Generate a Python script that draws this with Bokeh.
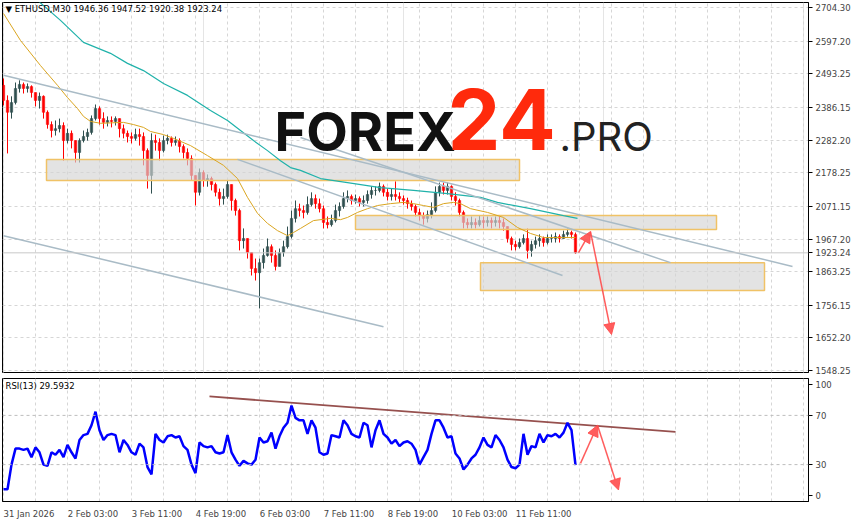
from bokeh.plotting import figure
from bokeh.layouts import column
from bokeh.models import (FixedTicker, NumeralTickFormatter, Range1d, Label, Span,
                          Arrow, NormalHead, Grid, ColumnDataSource)
from bokeh.embed import file_html
from bokeh.resources import INLINE

# ---------------- data ----------------
symbol = "ETHUSD"
timeframe = "M30"
last_ohlc = [1946.36, 1947.52, 1920.38, 1923.24]
rsi_period = 13
rsi_last = 29.5932

bars_per_candle = 4          # each drawn candle = 4 x M30 bars
first_open = 2457

closes = [2409, 2371, 2402, 2447, 2460, 2447, 2453, 2434, 2409, 2422,
          2371, 2332, 2313, 2319, 2329, 2281, 2304, 2281, 2243, 2281,
          2294, 2307, 2351, 2383, 2351, 2339, 2345, 2342, 2351, 2319,
          2304, 2294, 2288, 2300, 2294, 2249, 2170, 2281, 2275, 2249,
          2281, 2288, 2275, 2281, 2262, 2243, 2224, 2170, 2116, 2179,
          2154, 2160, 2141, 2116, 2096, 2103, 2141, 2090, 2058, 1962,
          1969, 1924, 1873, 1860, 1892, 1915, 1943, 1915, 1880, 1924,
          1943, 1975, 2033, 2064, 2058, 2052, 2077, 2096, 2080, 2064,
          2020, 2013, 2026, 2058, 2071, 2096, 2103, 2090, 2096, 2084,
          2090, 2109, 2122, 2122, 2135, 2116, 2103, 2109, 2103, 2096,
          2090, 2080, 2071, 2052, 2042, 2033, 2045, 2058, 2116, 2135,
          2122, 2135, 2103, 2090, 2052, 2020, 2013, 2020, 2013, 2026,
          2020, 2026, 2020, 2026, 2020, 2007, 1969, 1950, 1943, 1956,
          1969, 1931, 1950, 1962, 1969, 1956, 1969, 1969, 1975, 1969,
          1982, 1988, 1982, 1923.24]

highs = [2479, 2425, 2422, 2466, 2473, 2466, 2463, 2457, 2434, 2434,
         2425, 2377, 2342, 2345, 2351, 2339, 2319, 2313, 2281, 2288,
         2313, 2319, 2361, 2396, 2390, 2371, 2358, 2358, 2358, 2351,
         2332, 2313, 2307, 2319, 2319, 2307, 2256, 2304, 2300, 2288,
         2297, 2300, 2294, 2294, 2288, 2269, 2256, 2234, 2170, 2192,
         2186, 2173, 2166, 2147, 2128, 2128, 2154, 2141, 2096, 2064,
         2001, 1969, 1924, 1905, 1905, 1937, 1969, 1950, 1931, 1937,
         1962, 2007, 2058, 2090, 2080, 2074, 2103, 2116, 2109, 2096,
         2074, 2039, 2045, 2077, 2084, 2116, 2122, 2109, 2109, 2103,
         2106, 2122, 2135, 2135, 2147, 2141, 2128, 2128, 2151, 2116,
         2106, 2099, 2090, 2077, 2064, 2052, 2058, 2084, 2135, 2147,
         2147, 2147, 2138, 2116, 2096, 2058, 2033, 2039, 2033, 2042,
         2039, 2039, 2036, 2039, 2039, 2033, 2007, 1975, 1962, 1969,
         1982, 2001, 1962, 1975, 1982, 1975, 1982, 1982, 1988, 1982,
         1994, 2001, 1994, 1988]

lows = [2393, 2240, 2351, 2396, 2434, 2431, 2434, 2418, 2390, 2383,
        2351, 2319, 2291, 2297, 2307, 2217, 2272, 2256, 2211, 2211,
        2275, 2281, 2300, 2345, 2332, 2319, 2326, 2323, 2329, 2291,
        2288, 2275, 2272, 2281, 2265, 2202, 2128, 2112, 2249, 2217,
        2243, 2269, 2262, 2265, 2243, 2224, 2202, 2154, 2074, 2106,
        2134, 2134, 2122, 2103, 2074, 2077, 2096, 2058, 2042, 1931,
        1937, 1905, 1851, 1835, 1746, 1873, 1911, 1892, 1867, 1880,
        1911, 1937, 1969, 2020, 2039, 2033, 2045, 2071, 2064, 2052,
        2001, 2001, 2007, 2020, 2039, 2064, 2084, 2077, 2080, 2071,
        2071, 2080, 2096, 2106, 2116, 2103, 2090, 2090, 2090, 2084,
        2077, 2064, 2058, 2039, 2026, 2013, 2020, 2033, 2052, 2103,
        2109, 2109, 2090, 2074, 2039, 2001, 2001, 2001, 2001, 2007,
        2001, 2007, 2001, 2007, 2001, 1994, 1956, 1931, 1931, 1937,
        1950, 1905, 1911, 1937, 1943, 1943, 1950, 1956, 1956, 1956,
        1969, 1975, 1969, 1920.38]

rsi = [10, 10, 30, 43, 43, 42, 43, 36, 44, 40,
       30, 29, 40, 38, 42, 36, 46, 40, 35, 50,
       54, 55, 62, 73, 58, 50, 54, 55, 54, 40,
       50, 46, 40, 38, 47, 44, 28, 22, 55, 50,
       48, 53, 54, 52, 53, 45, 42, 30, 23, 48,
       45, 44, 45, 40, 39, 40, 54, 40, 34, 29,
       33, 31, 30, 34, 52, 48, 49, 56, 43, 53,
       60, 64, 78, 68, 66, 66, 55, 66, 60, 40,
       38, 39, 54, 53, 52, 66, 62, 55, 53, 52,
       64, 62, 44, 58, 66, 55, 52, 47, 50, 45,
       48, 49, 47, 42, 30, 36, 42, 55, 66, 66,
       60, 52, 53, 39, 35, 26, 30, 35, 38, 44,
       52, 46, 44, 54, 50, 44, 34, 28, 27, 30,
       55, 38, 45, 44, 55, 48, 54, 53, 55, 52,
       56, 64, 58, 29.5932]

# moving averages (bar index, price)
ma_fast_x = [0, 17, 37, 54, 64, 74, 80, 87, 97, 120, 130, 140, 147, 160, 170, 187, 204, 220,
             234, 244, 254, 264, 274, 284, 290, 297, 310, 327, 337, 344, 354, 364, 374, 387,
             400, 410, 420, 430, 440, 450, 457, 467, 484, 500, 514, 527, 540, 560, 572]
ma_fast_y = [2686, 2600, 2520, 2457, 2418, 2383, 2358, 2342, 2336, 2339, 2332, 2323, 2310, 2300,
             2288, 2265, 2233, 2202, 2160, 2100, 2049, 2017, 1994, 1978, 1988, 2001, 2026, 2033,
             2029, 2036, 2052, 2064, 2074, 2080, 2084, 2080, 2074, 2068, 2080, 2084, 2080, 2064,
             2052, 2036, 2004, 1985, 1972, 1972, 1972]
ma_slow_x = [34, 57, 80, 107, 124, 140, 160, 184, 207, 224, 237, 250, 264, 277, 287, 297, 317,
             344, 377, 410, 444, 477, 494, 527, 560, 574]
ma_slow_y = [2728, 2664, 2594, 2559, 2527, 2504, 2463, 2425, 2377, 2345, 2313, 2281, 2249, 2217,
             2195, 2186, 2160, 2147, 2131, 2122, 2112, 2100, 2084, 2064, 2042, 2033]

# trend lines (bar, price)
trend_x0 = [0, 297, 234, 0]
trend_y0 = [2489, 2291, 2221, 1978]
trend_x1 = [789, 667, 559, 380]
trend_y1 = [1880, 1892, 1851, 1688]

# zones (bar from/to, price top/bottom)
zone_left = [43, 352, 477]
zone_right = [516, 713, 761]
zone_top = [2221, 2042, 1892]
zone_bottom = [2154, 1998, 1803]

# forecast arrows
arrow_price = [(575, 1924, 587, 1991), (587, 1991, 608, 1663)]
arrow_rsi = [(577, 31, 594, 62), (594, 62, 615, 9.4)]
rsi_trend = (206, 85.4, 672, 56.6)

price_ticks = [1548.25, 1652.20, 1756.15, 1863.25, 1967.20, 2071.15, 2178.25,
               2282.20, 2386.15, 2493.25, 2597.20, 2704.30]
time_labels = ["31 Jan 2026", "2 Feb 03:00", "3 Feb 11:00", "4 Feb 19:00", "6 Feb 03:00",
               "7 Feb 11:00", "8 Feb 19:00", "10 Feb 03:00", "11 Feb 11:00"]
rsi_levels = [30, 70]

# logo (bar of left edge, price of baseline)
logo_parts = ["FOREX", "24", ".PRO"]
logo_x = [271, 444, 556]
logo_base = 2243

# ---------------- styling ----------------
FONT = "DejaVu Sans"
FSN = 8.5
FS = "%spx" % FSN
GRID_C = "#d6d6d6"
BULL = "#2f4f4f"
BEAR = "#ff0000"
W = 855
H1, H2 = 377, 144
Y0, Y1 = 1541.9, 2721
FRAME_H = 370
XR = Range1d(-1, 805)
label_step = 64
vgrid_ticks = list(range(0, 805, 32))

# DejaVu Sans advance widths (em) to left-align time labels at their bar
CW = {" ": 0.318, ":": 0.337, "F": 0.575, "e": 0.615, "b": 0.635, "J": 0.295,
      "a": 0.613, "n": 0.634}
def text_width(s):
    return sum(CW.get(ch, 0.636) for ch in s) * FSN

opens = [first_open] + closes[:-1]
xs = [i * bars_per_candle for i in range(len(closes))]

def src(up):
    d = dict(x=[], top=[], bottom=[], hi=[], lo=[])
    for x, o, h, l, c in zip(xs, opens, highs, lows, closes):
        if (c >= o) == up:
            d["x"].append(x)
            d["top"].append(max(o, c))
            d["bottom"].append(min(o, c))
            d["hi"].append(h)
            d["lo"].append(l)
    return ColumnDataSource(d)

p = figure(width=W, height=H1, x_range=XR, y_range=Range1d(Y0, Y1),
           output_backend="svg", toolbar_location=None, y_axis_location="right",
           x_axis_location=None, min_border_left=2, min_border_right=47,
           min_border_top=2, min_border_bottom=5)
p.outline_line_color = "black"
p.outline_line_alpha = 1
p.yaxis.ticker = FixedTicker(ticks=price_ticks + [last_ohlc[3]])
p.yaxis.formatter = NumeralTickFormatter(format="0.00")
p.yaxis.major_label_text_font = FONT
p.yaxis.major_label_text_font_size = FS
p.yaxis.minor_tick_line_color = None
p.yaxis.major_tick_out = 4
p.yaxis.major_tick_in = 0
p.yaxis.major_label_standoff = 3
p.ygrid.ticker = FixedTicker(ticks=price_ticks)
p.ygrid.grid_line_color = GRID_C
p.ygrid.grid_line_dash = "3 3"
p.add_layout(Grid(dimension=0, ticker=FixedTicker(ticks=vgrid_ticks),
                  grid_line_color=GRID_C, grid_line_dash="3 3"))

p.add_layout(Span(location=last_ohlc[3], dimension="width", line_color="#c8c8c8", line_width=1))

for up, col in ((True, BULL), (False, BEAR)):
    s = src(up)
    p.segment("x", "hi", "x", "lo", source=s, line_color=col, line_width=1)
    p.vbar(x="x", top="top", bottom="bottom", width=2.4, source=s,
           fill_color=col, line_color=col, line_width=0.5)

p.quad(left=zone_left, right=zone_right, top=zone_top, bottom=zone_bottom,
       fill_color="#d4d4d4", fill_alpha=0.65, line_color="#f0c266", line_width=1.5)

p.line(ma_fast_x, ma_fast_y, line_color="#daa520", line_width=1)
p.line(ma_slow_x, ma_slow_y, line_color="#20b2aa", line_width=1.2)
p.segment(trend_x0, trend_y0, trend_x1, trend_y1, line_color="#a9bbc6", line_width=1.5)

for (x0, y0, x1, y1) in arrow_price:
    p.add_layout(Arrow(end=NormalHead(size=11, fill_color="#ff4b4b", line_color="#ff4b4b",
                                      fill_alpha=0.9, line_alpha=0.9),
                       x_start=x0, y_start=y0, x_end=x1, y_end=y1,
                       line_color="#ff4b4b", line_width=1.5, line_alpha=0.9))

head = "\u25bc %s,%s  %s" % (symbol, timeframe, " ".join("%.2f" % v for v in last_ohlc))
p.add_layout(Label(x=2, y=2699, text=head, text_font=FONT, text_font_size=FS,
                   text_baseline="middle", text_color="black"))

# logo (compensate the label anchor so that all parts share one baseline)
ppx = (Y1 - Y0) / FRAME_H
logo_style = [("bold", 54, "#111111"), ("bold", 84, "#ff2a0c"), ("normal", 40, "#222222")]
for t, lx, (st, sz, c) in zip(logo_parts, logo_x, logo_style):
    p.add_layout(Label(x=lx, y=logo_base + 0.39 * sz * ppx, text=t, text_font="Inter",
                       text_font_style=st, text_font_size="%dpx" % sz, text_color=c,
                       text_baseline="alphabetic"))

# ---------------- RSI panel ----------------
q = figure(width=W, height=H2, x_range=XR, y_range=Range1d(0, 100),
           output_backend="svg", toolbar_location=None, y_axis_location="right",
           min_border_left=2, min_border_right=47, min_border_top=1, min_border_bottom=0)
q.outline_line_color = "black"
q.outline_line_alpha = 1
q.yaxis.ticker = FixedTicker(ticks=[5, 30, 70, 95])
q.yaxis.major_label_overrides = {5: "0", 30: "30", 70: "70", 95: "100"}
q.yaxis.major_label_text_font = FONT
q.yaxis.major_label_text_font_size = FS
q.yaxis.minor_tick_line_color = None
q.yaxis.major_tick_out = 4
q.yaxis.major_tick_in = 0
q.yaxis.major_label_standoff = 3
q.ygrid.visible = False
q.xgrid.ticker = FixedTicker(ticks=vgrid_ticks)
q.xgrid.grid_line_color = GRID_C
q.xgrid.grid_line_dash = "3 3"
tstart = [i * label_step for i in range(len(time_labels))]
tcenter = [t + text_width(s) / 2.0 for t, s in zip(tstart, time_labels)]
q.xaxis.ticker = FixedTicker(ticks=tcenter)
q.xaxis.major_label_overrides = {t: s for t, s in zip(tcenter, time_labels)}
q.xaxis.major_label_text_font = FONT
q.xaxis.major_label_text_font_size = FS
q.xaxis.minor_tick_line_color = None
q.xaxis.major_tick_line_color = None
q.xaxis.major_tick_out = 4
q.xaxis.major_tick_in = 0
q.xaxis.major_label_standoff = 3
for lv in rsi_levels:
    q.add_layout(Span(location=lv, dimension="width", line_color="#bdbdbd",
                      line_dash="3 3", line_width=1))
q.segment([rsi_trend[0]], [rsi_trend[1]], [rsi_trend[2]], [rsi_trend[3]],
          line_color="#96504e", line_width=1.8)
q.line(xs, rsi, line_color="#0000ff", line_width=2.5)
for (x0, y0, x1, y1) in arrow_rsi:
    q.add_layout(Arrow(end=NormalHead(size=11, fill_color="#ff4b4b", line_color="#ff4b4b",
                                      fill_alpha=0.9, line_alpha=0.9),
                       x_start=x0, y_start=y0, x_end=x1, y_end=y1,
                       line_color="#ff4b4b", line_width=1.5, line_alpha=0.9))
q.add_layout(Label(x=2, y=94, text="RSI(%d) %.4f" % (rsi_period, rsi_last),
                   text_font=FONT, text_font_size=FS, text_baseline="middle",
                   text_color="black"))

layout = column(p, q, spacing=0)
open("out.html", "w").write(file_html(layout, INLINE))
